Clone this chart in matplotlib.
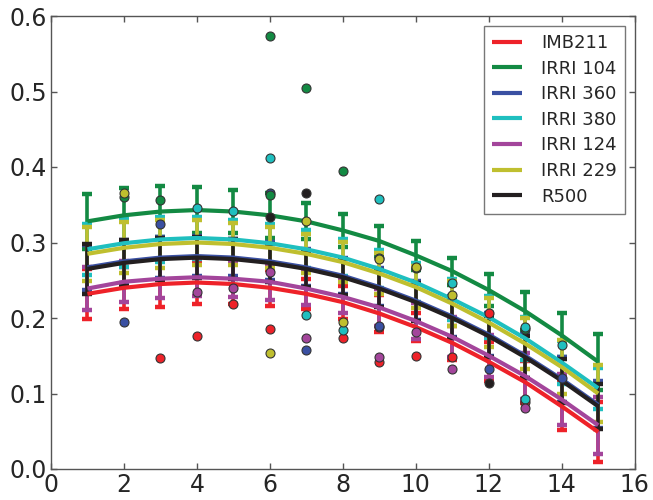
import matplotlib
matplotlib.use("Agg")
import matplotlib.pyplot as plt

x_vals = list(range(1, 16))

series_names = ["IMB211", "IRRI 104", "IRRI 360", "IRRI 380", "IRRI 124", "IRRI 229", "R500"]
series_colors = ["#ee2229", "#138a43", "#3a50a2", "#1fbfbf", "#a3459b", "#bfbf2f", "#231f20"]

# fitted curve values at x = 1..15
curve_imb211 = [.232, .240, .245, .247, .245, .240, .232, .221, .206, .188, .167, .142, .115, .083, .049]
curve_irri104 = [.328, .336, .341, .343, .341, .336, .328, .316, .302, .283, .262, .237, .209, .177, .142]
curve_irri360 = [.267, .275, .280, .282, .280, .275, .267, .256, .241, .223, .202, .178, .150, .119, .085]
curve_irri380 = [.291, .299, .304, .306, .304, .299, .291, .280, .265, .247, .225, .201, .173, .141, .107]
curve_irri124 = [.239, .248, .252, .254, .252, .248, .239, .228, .214, .196, .175, .150, .123, .092, .058]
curve_irri229 = [.285, .293, .298, .300, .298, .293, .285, .274, .259, .241, .219, .194, .166, .135, .100]
curve_r500 = [.265, .273, .278, .280, .278, .273, .265, .254, .239, .221, .200, .176, .148, .117, .083]

# error bar half-heights
err_imb211 = [.033, .028, .030, .028, .026, .024, .020, .022, .025, .018, .022, .026, .028, .032, .040]
err_irri104 = [.036, .036, .034, .031, .028, .030, .024, .022, .020, .019, .018, .021, .025, .029, .037]
err_irri360 = [.030, .028, .027, .026, .025, .025, .024, .024, .025, .026, .027, .028, .029, .030, .031]
err_irri380 = [.034, .032, .030, .028, .026, .026, .025, .025, .025, .026, .027, .028, .028, .028, .027]
err_irri124 = [.028, .027, .026, .025, .024, .024, .022, .022, .024, .024, .026, .028, .030, .034, .038]
err_irri229 = [.036, .034, .032, .030, .028, .027, .026, .026, .027, .028, .030, .032, .034, .036, .038]
err_r500 = [.033, .030, .028, .027, .026, .025, .024, .024, .024, .025, .026, .027, .028, .029, .030]

# individual observations (visible ones)
pts_x_imb211 = [3, 4, 5, 6, 8, 9, 9, 10, 11, 12, 13]
pts_y_imb211 = [.147, .176, .219, .185, .174, .188, .142, .150, .148, .207, .089]
pts_x_irri104 = [2, 3, 6, 6, 7, 8, 10, 13]
pts_y_irri104 = [.360, .356, .573, .363, .505, .395, .266, .186]
pts_x_irri360 = [2, 3, 6, 7, 9, 12, 14]
pts_y_irri360 = [.195, .325, .365, .157, .190, .133, .121]
pts_x_irri380 = [4, 5, 6, 7, 8, 9, 9, 11, 13, 13, 14]
pts_y_irri380 = [.346, .342, .412, .204, .184, .358, .280, .247, .093, .188, .164]
pts_x_irri124 = [4, 5, 6, 7, 9, 10, 11, 13]
pts_y_irri124 = [.234, .240, .261, .174, .148, .181, .133, .081]
pts_x_irri229 = [2, 6, 7, 8, 9, 10, 11]
pts_y_irri229 = [.366, .154, .328, .195, .278, .268, .231]
pts_x_r500 = [6, 7, 12]
pts_y_r500 = [.334, .366, .114]

curves = [curve_imb211, curve_irri104, curve_irri360, curve_irri380, curve_irri124, curve_irri229, curve_r500]
errs = [err_imb211, err_irri104, err_irri360, err_irri380, err_irri124, err_irri229, err_r500]
pts_x = [pts_x_imb211, pts_x_irri104, pts_x_irri360, pts_x_irri380, pts_x_irri124, pts_x_irri229, pts_x_r500]
pts_y = [pts_y_imb211, pts_y_irri104, pts_y_irri360, pts_y_irri380, pts_y_irri124, pts_y_irri229, pts_y_r500]

fig = plt.figure(figsize=(6.53, 5.0), dpi=100)
ax = fig.add_axes([0.078, 0.062, 0.894, 0.906])

for i, name in enumerate(series_names):
    c = series_colors[i]
    ax.errorbar(x_vals, curves[i], yerr=errs[i], fmt="none", ecolor=c,
                elinewidth=2.6, capsize=3.6, capthick=3.2, zorder=2)
    ax.plot(x_vals, curves[i], color=c, lw=3.0, label=name, zorder=2.5,
            solid_capstyle="butt")

scatter_order = [0, 2, 1, 3, 4, 5, 6]
for i in scatter_order:
    ax.scatter(pts_x[i], pts_y[i], s=42, color=series_colors[i],
               edgecolors="#333333", linewidths=0.8, zorder=3)

ax.set_xlim(0, 16)
ax.set_ylim(0, 0.6)
ax.set_xticks(range(0, 17, 2))
ax.set_yticks([0.0, 0.1, 0.2, 0.3, 0.4, 0.5, 0.6])
ax.set_yticklabels(["0.0", "0.1", "0.2", "0.3", "0.4", "0.5", "0.6"])
ax.tick_params(direction="in", length=4, width=1, top=True, right=True,
               labelsize=17, colors="#555555", labelcolor="#262626", pad=3)
for s in ax.spines.values():
    s.set_color("#555555")
    s.set_linewidth(1.0)

leg = ax.legend(loc="upper right", fontsize=13, frameon=True, fancybox=False,
                handlelength=1.66, handletextpad=1.05, labelspacing=0.42,
                borderaxespad=0.55, borderpad=0.45)
leg.get_frame().set_edgecolor("#555555")
leg.get_frame().set_linewidth(1.0)
for t in leg.get_texts():
    t.set_color("#262626")

fig.savefig("out.png", dpi=100)
